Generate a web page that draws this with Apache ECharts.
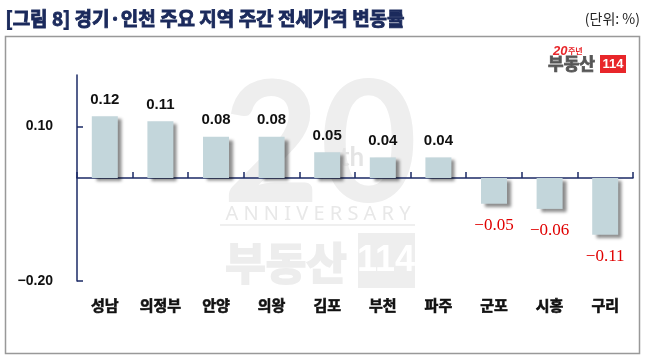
<!DOCTYPE html>
<html>
<head>
<meta charset="utf-8">
<script src="https://cdn.jsdelivr.net/npm/echarts@6/dist/echarts.min.js"></script>
<style>
html,body{margin:0;padding:0;background:#fff;}
#chart{width:654px;height:362px;}
</style>
</head>
<body>
<div id="chart"></div>
<script>
const titleText = '[그림 8] 경기·인천 주요 지역 주간 전세가격 변동률';
const unitText = '(단위: %)';
const categories = ['성남','의정부','안양','의왕','김포','부천','파주','군포','시흥','구리'];
const values = [0.12, 0.11, 0.08, 0.08, 0.05, 0.04, 0.04, -0.05, -0.06, -0.11];
const yTickValues = [-0.2, 0.1];
const yMin = -0.2, yMax = 0.2;

const AXIS = '#1b2a66';
const fmt = v => (v < 0 ? '\u2212' : '') + Math.abs(v).toFixed(2);

const posLabel = {
  show: true, position: 'top', distance: 9,
  fontFamily: 'Liberation Sans', fontWeight: 'bold', fontSize: 15, color: '#111'
};
const negLabel = {
  show: true, position: 'bottom', distance: 13,
  fontFamily: 'Liberation Serif', fontSize: 17, color: '#e00000'
};

const chart = echarts.init(document.getElementById('chart'), null, {renderer: 'canvas'});
chart.setOption({
  animation: false,
  backgroundColor: '#fff',
  grid: {left: 77, right: 21, top: 75, bottom: 81},
  graphic: [
    {type: 'text', left: 5, top: 9, z: 10, style: {text: titleText, font: 'bold 19px "Noto Sans CJK KR"', fill: '#1b2a5c', stroke: '#1b2a5c', lineWidth: 0.9}},
    {type: 'text', right: 14, top: 12, z: 10, style: {text: unitText, font: '14px "Noto Sans CJK KR"', fill: '#222'}},
    {type: 'rect', shape: {x: 5.5, y: 36.5, width: 634, height: 317}, style: {fill: 'none', stroke: '#999', lineWidth: 1.5}, z: 0},
    // watermark
    {type: 'text', x: 320, y: 148, z: 0, style: {text: '20', font: 'bold 168px "Lato"', fill: '#eeeeee', align: 'center', verticalAlign: 'middle'}},
    {type: 'text', x: 352, y: 158, z: 0, style: {text: 'th', font: 'bold 26px "Lato"', fill: '#e4e4e4', align: 'center', verticalAlign: 'middle'}},
    {type: 'text', x: 318, y: 214, z: 0, style: {text: 'A N N I V E R S A R Y', font: '20px "Noto Sans"', fill: '#e8e8e8', align: 'center', verticalAlign: 'middle'}},
    {type: 'rect', shape: {x: 220, y: 224, width: 195, height: 2}, style: {fill: '#efefef'}, z: 0},
    {type: 'text', x: 286, y: 263, z: 0, style: {text: '부동산', font: 'bold 44px "Noto Sans CJK KR"', fill: '#ededed', stroke: '#ededed', lineWidth: 2, align: 'center', verticalAlign: 'middle'}},
    {type: 'rect', shape: {x: 358, y: 233, width: 57, height: 55}, style: {fill: '#eeeeee'}, z: 0},
    {type: 'text', x: 386, y: 261, z: 0, style: {text: '114', font: 'bold 36px "Liberation Sans"', fill: '#fff', align: 'center', verticalAlign: 'middle'}},
    // logo
    {type: 'text', x: 553, y: 51, z: 10, style: {text: '20', font: 'italic bold 13px "Liberation Sans"', fill: '#e8262a', verticalAlign: 'middle'}},
    {type: 'text', x: 568, y: 51, z: 10, style: {text: '주년', font: 'bold 8px "Noto Sans CJK KR"', fill: '#e8262a', verticalAlign: 'middle'}},
    {type: 'text', x: 548, y: 64, z: 10, style: {text: '부동산', font: 'bold 17px "Noto Sans CJK KR"', fill: '#555', stroke: '#555', lineWidth: 0.8, verticalAlign: 'middle'}},
    {type: 'rect', shape: {x: 600, y: 55, width: 26, height: 18}, style: {fill: '#e8262a'}, z: 10},
    {type: 'text', x: 613, y: 64, z: 11, style: {text: '114', font: 'bold 13px "Liberation Sans"', fill: '#fff', align: 'center', verticalAlign: 'middle'}}
  ],
  xAxis: [
    {
      type: 'category', data: categories, position: 'bottom',
      axisLine: {onZero: true, lineStyle: {color: AXIS, width: 1.5}},
      axisTick: {show: true, inside: true, length: 6, alignWithLabel: false, lineStyle: {color: AXIS, width: 1.5}},
      axisLabel: {show: false},
      splitLine: {show: false}
    },
    {
      type: 'category', data: categories, position: 'bottom',
      axisLine: {show: false, onZero: false},
      axisTick: {show: false},
      axisLabel: {show: true, margin: 17, fontFamily: 'Noto Sans CJK KR', fontWeight: 'bold', fontSize: 15, color: '#111',
        textBorderColor: '#111', textBorderWidth: 0.6},
      splitLine: {show: false}
    }
  ],
  yAxis: {
    type: 'value', min: yMin, max: yMax,
    axisLine: {show: true, lineStyle: {color: AXIS, width: 1.5}},
    axisTick: {show: true, inside: true, length: 6, customValues: yTickValues, lineStyle: {color: AXIS, width: 1.5}},
    axisLabel: {show: true, customValues: yTickValues, margin: 24, formatter: fmt,
      fontFamily: 'Liberation Sans', fontWeight: 'bold', fontSize: 14, color: '#111'},
    splitLine: {show: false}
  },
  series: [{
    type: 'bar', xAxisIndex: 0, barWidth: 26,
    itemStyle: {color: '#c3d6db', shadowColor: 'rgba(0,0,0,0.45)', shadowBlur: 3, shadowOffsetX: 4, shadowOffsetY: 3},
    data: values.map(v => ({value: v, label: Object.assign({formatter: p => fmt(p.value)}, v < 0 ? negLabel : posLabel)}))
  }]
});
</script>
</body>
</html>
